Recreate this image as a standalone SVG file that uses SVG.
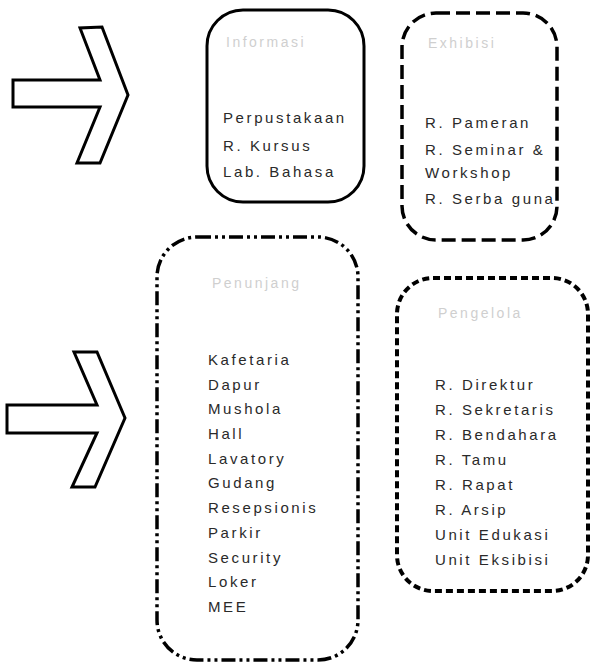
<svg xmlns="http://www.w3.org/2000/svg" width="591" height="664" viewBox="0 0 591 664">
<style>
  .box { fill: none; stroke: #000; stroke-linecap: butt; stroke-linejoin: round; }
  .arrow { fill: #fff; stroke: #000; stroke-width: 3; stroke-linejoin: miter; }
  .t { font-family: "Liberation Sans", Arial, sans-serif; font-size: 15px; fill: #2a2a2a; letter-spacing: 2.6px; }
  .h { font-family: "Liberation Sans", Arial, sans-serif; font-size: 14px; fill: #cfcfcf; letter-spacing: 2.5px; }
</style>
<rect width="591" height="664" fill="#fff"/>
<g id="arrow-top">
  <polygon class="arrow" points="13,80 100,80 80,28 102,27 128,95 100,163 77,163 100,107 13,107"/>
</g>
<g id="arrow-bottom">
  <polygon class="arrow" points="7,405 97,405 74,352 97,352 125,418 95,487 72,487 97,433 7,433"/>
</g>
<g id="connectors"></g>
<g id="informasi">
  <rect class="box" x="207" y="10" width="157" height="192" rx="36" stroke-width="3"/>
  <text class="h" x="226" y="47">Informasi</text>
  <text class="t" x="223" y="123">Perpustakaan</text>
  <text class="t" x="223" y="151">R. Kursus</text>
  <text class="t" x="223" y="177">Lab. Bahasa</text>
</g>
<g id="exhibisi">
  <rect class="box" x="402" y="13" width="155" height="227" rx="34" stroke-width="3.5" stroke-dasharray="14 6"/>
  <text class="h" x="428" y="48">Exhibisi</text>
  <text class="t" x="425" y="128">R. Pameran</text>
  <text class="t" x="425" y="155">R. Seminar &amp;</text>
  <text class="t" x="425" y="178">Workshop</text>
  <text class="t" x="425" y="204">R. Serba guna</text>
</g>
<g id="penunjang">
  <rect class="box" x="157" y="237" width="201" height="423" rx="40" stroke-width="3.5" stroke-dasharray="14 4 3 4 3 4"/>
  <text class="h" x="212" y="288" letter-spacing="5">Penunjang</text>
  <text class="t" x="208" y="365">Kafetaria</text>
  <text class="t" x="208" y="390">Dapur</text>
  <text class="t" x="208" y="414">Mushola</text>
  <text class="t" x="208" y="439">Hall</text>
  <text class="t" x="208" y="464">Lavatory</text>
  <text class="t" x="208" y="488">Gudang</text>
  <text class="t" x="208" y="513">Resepsionis</text>
  <text class="t" x="208" y="538">Parkir</text>
  <text class="t" x="208" y="563">Security</text>
  <text class="t" x="208" y="587">Loker</text>
  <text class="t" x="208" y="612">MEE</text>
</g>
<g id="pengelola">
  <rect class="box" x="397" y="278" width="191" height="313" rx="36" stroke-width="4" stroke-dasharray="7 4"/>
  <text class="h" x="438" y="318" letter-spacing="4.5">Pengelola</text>
  <text class="t" x="435" y="390">R. Direktur</text>
  <text class="t" x="435" y="415">R. Sekretaris</text>
  <text class="t" x="435" y="440">R. Bendahara</text>
  <text class="t" x="435" y="465">R. Tamu</text>
  <text class="t" x="435" y="490">R. Rapat</text>
  <text class="t" x="435" y="515">R. Arsip</text>
  <text class="t" x="435" y="540">Unit Edukasi</text>
  <text class="t" x="435" y="565">Unit Eksibisi</text>
</g>
</svg>
